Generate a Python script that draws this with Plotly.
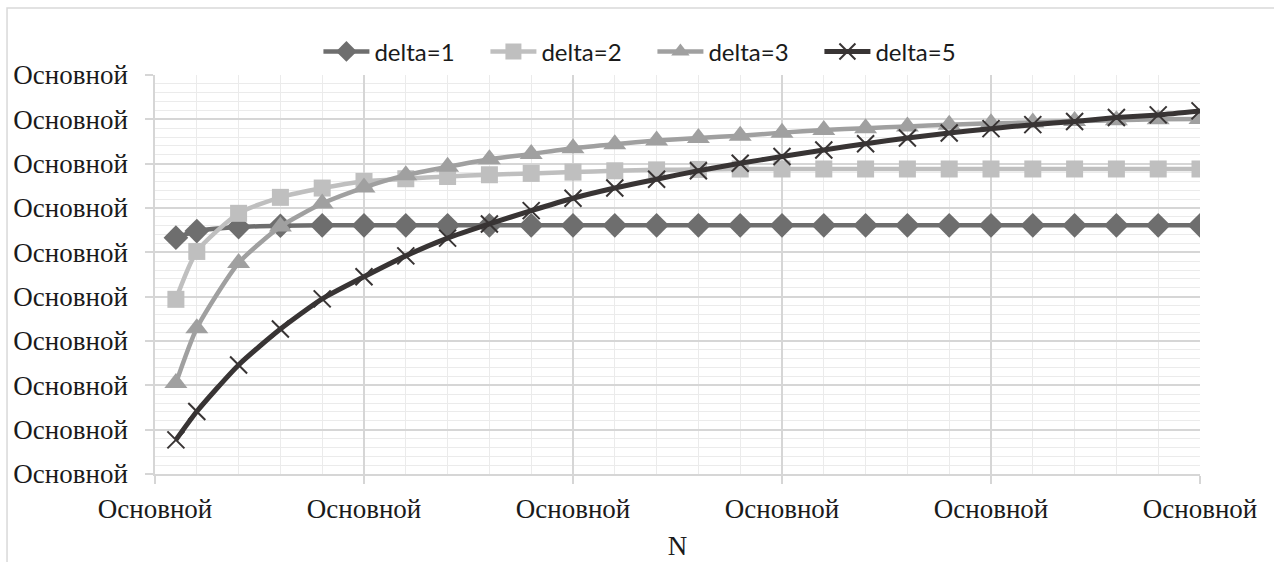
import plotly.graph_objects as go

N = [1, 2, 4, 6, 8, 10, 12, 14, 16, 18, 20, 22, 24, 26, 28, 30, 32, 34, 36, 38, 40, 42, 44, 46, 48, 50]
delta1 = [5.33, 5.48, 5.57, 5.60] + [5.61] * 22
delta2 = [3.94, 5.02, 5.88, 6.24, 6.45, 6.60, 6.66, 6.71, 6.75, 6.78, 6.81, 6.84, 6.86, 6.87] + [6.88] * 12
delta3 = [2.05, 3.29, 4.76, 5.58, 6.10, 6.46, 6.74, 6.93, 7.10, 7.22, 7.35, 7.44, 7.52, 7.58, 7.63,
          7.70, 7.76, 7.80, 7.84, 7.88, 7.91, 7.93, 7.96, 7.98, 8.00, 8.01]
delta5 = [0.77, 1.41, 2.46, 3.27, 3.95, 4.45, 4.92, 5.32, 5.64, 5.94, 6.22, 6.45, 6.65, 6.84, 7.01,
          7.16, 7.31, 7.45, 7.58, 7.69, 7.79, 7.88, 7.95, 8.04, 8.10, 8.19]
series_names = ["delta=1", "delta=2", "delta=3", "delta=5"]
x_tickvals = [0, 10, 20, 30, 40, 50]
y_tickvals = [0, 1, 2, 3, 4, 5, 6, 7, 8, 9]
tick_label = "Основной"
x_title = "N"

fig = go.Figure()
styles = [
    dict(color="#6e6e6e", symbol="diamond", size=19, lw=4.5),
    dict(color="#bfbfbf", symbol="square", size=17, lw=4.5),
    dict(color="#a0a0a0", symbol="triangle-up", size=20, lw=4.5),
    dict(color="#383434", symbol="x-thin-open", size=17, lw=5),
]
for name, ys, st in zip(series_names, [delta1, delta2, delta3, delta5], styles):
    marker = dict(symbol=st["symbol"], size=st["size"], color=st["color"])
    if st["symbol"] == "x-thin-open":
        marker["line"] = dict(color=st["color"], width=2)
    fig.add_trace(go.Scatter(
        x=N, y=ys, name=name, mode="lines+markers",
        line=dict(color=st["color"], width=st["lw"], shape="spline", smoothing=0.6),
        marker=marker,
    ))

serif = "Liberation Serif"
fig.update_xaxes(
    range=[0, 50], tickvals=x_tickvals, ticktext=[tick_label] * len(x_tickvals),
    showgrid=True, gridcolor="#d6d6d6", gridwidth=1.5,
    minor=dict(dtick=2, showgrid=True, gridcolor="#ebebeb", gridwidth=1),
    showline=True, linecolor="#d6d6d6", linewidth=1.5,
    ticks="outside", ticklen=8, tickcolor="#d6d6d6", tickwidth=1.5,
    tickfont=dict(family=serif, size=27, color="#1a1a1a"),
    ticklabelstandoff=2,
    title=dict(text=x_title, font=dict(family=serif, size=27, color="#1a1a1a"), standoff=13),
    zeroline=False,
)
fig.update_yaxes(
    range=[0, 9], tickvals=y_tickvals, ticktext=[tick_label] * len(y_tickvals),
    showgrid=True, gridcolor="#d6d6d6", gridwidth=1.5,
    minor=dict(dtick=0.2, showgrid=True, gridcolor="#ebebeb", gridwidth=1),
    showline=True, linecolor="#d6d6d6", linewidth=1.5,
    ticks="outside", ticklen=8, tickcolor="#d6d6d6", tickwidth=1.5,
    tickfont=dict(family=serif, size=27, color="#1a1a1a"),
    ticklabelstandoff=12,
    zeroline=False,
)
fig.update_layout(
    width=1274, height=562,
    margin=dict(l=155, r=74, t=75, b=88, autoexpand=False),
    paper_bgcolor="white", plot_bgcolor="white",
    legend=dict(orientation="h", x=0.476, xanchor="center", y=1.058, yanchor="middle",
                font=dict(family="Lato", size=24, color="#1a1a1a"),
                itemwidth=46, entrywidth=106, tracegroupgap=0),
    shapes=[dict(type="rect", xref="paper", yref="paper",
                 x0=-0.1416, y0=-0.35, x1=1.2, y1=1.168,
                 line=dict(color="#d9d9d9", width=1.5), layer="below")],
)
fig.write_html("out.html")
